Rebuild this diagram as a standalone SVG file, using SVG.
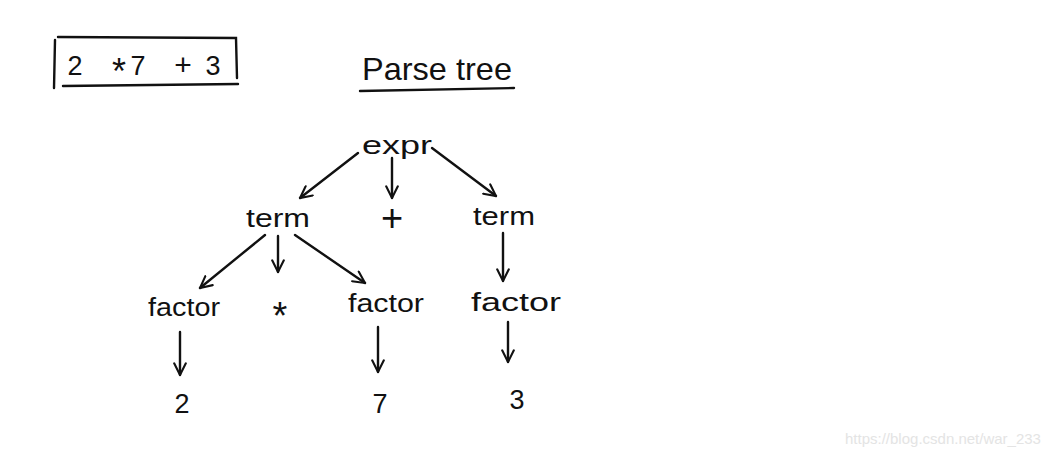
<svg xmlns="http://www.w3.org/2000/svg" width="1060" height="456" viewBox="0 0 1060 456">
<style>
text{font-family:"Liberation Sans","DejaVu Sans",sans-serif;fill:#111;text-anchor:middle}
.n{font-size:26px}
.d{font-size:27px}
.big{font-size:38px}
.ln{stroke:#111;stroke-width:2.4;fill:none;stroke-linecap:round}
.wm{font-size:15px;fill:#e4e4e4;text-anchor:start}
</style>
<defs>
<marker id="ah" viewBox="0 0 12 12" refX="11" refY="6" markerWidth="14" markerHeight="14" markerUnits="userSpaceOnUse" orient="auto">
<path d="M1,1 L11,6 L1,11" fill="none" stroke="#111" stroke-width="1.8" stroke-linecap="round"/>
</marker>
</defs>
<rect width="1060" height="456" fill="#fff"/>
<g id="input">
<path class="ln" d="M55,40 L54,88 M58,37 L236,38 L237,78 M63,86 L238,84"/>
<text class="d" y="75"><tspan x="75">2</tspan><tspan x="119" y="84" style="font-size:36px">*</tspan><tspan x="138" y="75">7</tspan><tspan x="183" style="font-size:30px">+</tspan><tspan x="213">3</tspan></text>
</g>
<g id="title">
<text x="437" y="80" style="font-size:32px" textLength="150" lengthAdjust="spacingAndGlyphs">Parse tree</text>
<path class="ln" d="M360,91 L514,88"/>
</g>
<g id="expr"><text class="n" x="397" y="154" textLength="70" lengthAdjust="spacingAndGlyphs">expr</text></g>
<g id="term1"><text class="n" x="278" y="227" textLength="64" lengthAdjust="spacingAndGlyphs">term</text></g>
<g id="plus"><text class="big" x="392" y="231">+</text></g>
<g id="term2"><text class="n" x="504" y="225" textLength="62" lengthAdjust="spacingAndGlyphs">term</text></g>
<g id="factor1"><text class="n" x="184" y="316" textLength="72" lengthAdjust="spacingAndGlyphs">factor</text></g>
<g id="times"><text class="big" x="280" y="329">*</text></g>
<g id="factor2"><text class="n" x="386" y="312" textLength="76" lengthAdjust="spacingAndGlyphs">factor</text></g>
<g id="factor3"><text class="n" x="516" y="311" textLength="90" lengthAdjust="spacingAndGlyphs">factor</text></g>
<g id="n2"><text class="d" x="182" y="413">2</text></g>
<g id="n7"><text class="d" x="380" y="413">7</text></g>
<g id="n3"><text class="d" x="517" y="409">3</text></g>
<g id="connectors">
<path class="ln" marker-end="url(#ah)" d="M358,153 L300,198"/>
<path class="ln" marker-end="url(#ah)" d="M392,158 L392,198"/>
<path class="ln" marker-end="url(#ah)" d="M432,148 L496,196"/>
<path class="ln" marker-end="url(#ah)" d="M265,235 L200,288"/>
<path class="ln" marker-end="url(#ah)" d="M278,236 L278,272"/>
<path class="ln" marker-end="url(#ah)" d="M295,235 L365,283"/>
<path class="ln" marker-end="url(#ah)" d="M503,233 L503,281"/>
<path class="ln" marker-end="url(#ah)" d="M180,332 L180,375"/>
<path class="ln" marker-end="url(#ah)" d="M378,327 L378,372"/>
<path class="ln" marker-end="url(#ah)" d="M508,322 L508,362"/>
</g>
<text class="wm" x="845" y="444">https://blog.csdn.net/war_233</text>
</svg>
